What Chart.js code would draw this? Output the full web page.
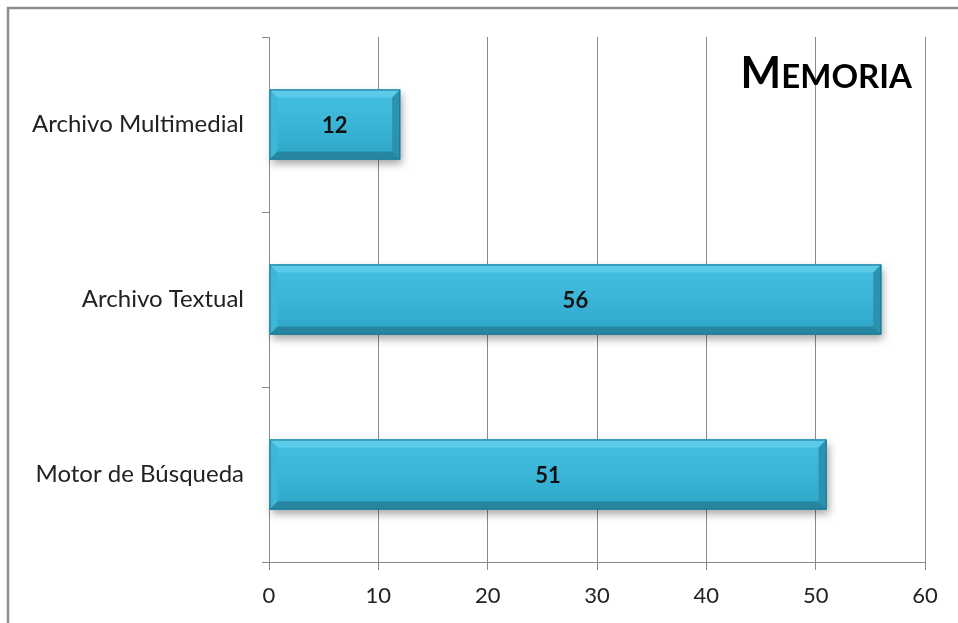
<!DOCTYPE html>
<html>
<head>
<meta charset="utf-8">
<script src="https://cdn.jsdelivr.net/npm/chart.js@4"></script>
<style>
  html, body { margin: 0; padding: 0; background: #fff; }
  #wrap { width: 958px; height: 623px; position: relative; }
</style>
</head>
<body>
<div id="wrap"><canvas id="memoria"></canvas></div>
<script>
"use strict"
// datos del gráfico
const categorias = ['Archivo Multimedial', 'Archivo Textual', 'Motor de Búsqueda'];
const valores = [12, 56, 51];
const titulo = 'Memoria';
const ejeMin = 0;
const ejeMax = 60;
const ejePaso = 10;

const FUENTE = 'Lato, "Open Sans", sans-serif';

// marco gris arriba e izquierda
const marco = {
  id: 'marco',
  beforeDraw(chart) {
    const ctx = chart.ctx;
    ctx.save();
    ctx.strokeStyle = '#8e8e8e';
    ctx.lineWidth = 2.5;
    ctx.beginPath();
    ctx.moveTo(8, chart.height);
    ctx.lineTo(8, 8);
    ctx.lineTo(chart.width, 8);
    ctx.stroke();
    ctx.restore();
  }
};

// sombra y bisel de las barras
const bisel = {
  id: 'bisel',
  beforeDatasetsDraw(chart) {
    const ctx = chart.ctx;
    chart.getDatasetMeta(0).data.forEach((bar) => {
      const p = bar.getProps(['x', 'y', 'base', 'height'], true);
      const top = p.y - p.height / 2;
      ctx.save();
      ctx.shadowColor = 'rgba(0,0,0,0.35)';
      ctx.shadowBlur = 8;
      ctx.shadowOffsetX = 2;
      ctx.shadowOffsetY = 4;
      ctx.fillStyle = '#2a93b1';
      ctx.fillRect(p.base, top, p.x - p.base, p.height);
      ctx.restore();
    });
  },
  afterDatasetsDraw(chart) {
    const ctx = chart.ctx;
    const b = 8;
    chart.getDatasetMeta(0).data.forEach((bar, i) => {
      const p = bar.getProps(['x', 'y', 'base', 'height'], true);
      const l = p.base, r = p.x, t = p.y - p.height / 2, bo = p.y + p.height / 2;
      ctx.save();
      // cara central
      const g = ctx.createLinearGradient(0, t, 0, bo);
      g.addColorStop(0, '#45c0e2');
      g.addColorStop(0.5, '#3ab4d7');
      g.addColorStop(1, '#2ea6c8');
      ctx.fillStyle = g;
      ctx.fillRect(l, t, r - l, bo - t);
      const poly = (pts, color) => {
        ctx.beginPath();
        ctx.moveTo(pts[0][0], pts[0][1]);
        for (let k = 1; k < pts.length; k++) ctx.lineTo(pts[k][0], pts[k][1]);
        ctx.closePath();
        ctx.fillStyle = color;
        ctx.fill();
      };
      poly([[l, t], [r, t], [r - b, t + b], [l + b, t + b]], '#5ccbe9');
      poly([[l, t], [l + b, t + b], [l + b, bo - b], [l, bo]], '#3db7d9');
      poly([[r, t], [r, bo], [r - b, bo - b], [r - b, t + b]], '#2b93b0');
      poly([[l, bo], [l + b, bo - b], [r - b, bo - b], [r, bo]], '#2686a1');
      ctx.strokeStyle = '#1f7690';
      ctx.lineWidth = 1;
      ctx.strokeRect(l + 0.5, t + 0.5, r - l - 1, bo - t - 1);
      // etiqueta del valor
      ctx.fillStyle = '#111';
      ctx.font = 'bold 22px ' + FUENTE;
      ctx.textAlign = 'center';
      ctx.textBaseline = 'middle';
      ctx.fillText(valores[i], (l + r) / 2, p.y + 1);
      ctx.restore();
    });
  }
};

// título en versalitas
const versalitas = {
  id: 'versalitas',
  afterDraw(chart) {
    const ctx = chart.ctx;
    const texto = titulo.toUpperCase();
    const grande = 'bold 43px ' + FUENTE;
    const chica = 'bold 33px ' + FUENTE;
    ctx.save();
    ctx.fillStyle = '#000';
    ctx.textBaseline = 'alphabetic';
    ctx.font = grande;
    const w1 = ctx.measureText(texto[0]).width;
    ctx.font = chica;
    const w2 = ctx.measureText(texto.slice(1)).width;
    const x0 = 912 - (w1 + w2);
    ctx.font = grande;
    ctx.fillText(texto[0], x0, 88);
    ctx.font = chica;
    ctx.fillText(texto.slice(1), x0 + w1, 88);
    ctx.restore();
  }
};

new Chart(document.getElementById('memoria'), {
  type: 'bar',
  data: {
    labels: categorias,
    datasets: [{
      label: titulo,
      data: valores,
      backgroundColor: '#3ab4d7',
      borderWidth: 0,
      categoryPercentage: 1,
      barPercentage: 0.4
    }]
  },
  options: {
    indexAxis: 'y',
    responsive: true,
    maintainAspectRatio: false,
    animation: false,
    layout: { padding: { top: 37, right: 33, left: 0, bottom: 0 } },
    plugins: {
      legend: { display: false },
      tooltip: { enabled: false }
    },
    scales: {
      x: {
        min: ejeMin,
        max: ejeMax,
        ticks: {
          stepSize: ejePaso,
          color: '#222',
          font: { size: 22, family: FUENTE },
          padding: 13
        },
        grid: { color: '#8a8a8a', lineWidth: 1, tickLength: 8 },
        border: { color: '#8a8a8a', width: 1 },
        afterFit(scale) { scale.height = 61; }
      },
      y: {
        offset: true,
        ticks: {
          color: '#222',
          font: { size: 24, family: FUENTE },
          padding: 18
        },
        grid: { drawOnChartArea: false, color: '#8a8a8a', tickLength: 7, offset: true },
        border: { color: '#8a8a8a', width: 1 },
        afterFit(scale) { scale.width = 269; }
      }
    }
  },
  plugins: [marco, bisel, versalitas]
});
</script>
</body>
</html>
